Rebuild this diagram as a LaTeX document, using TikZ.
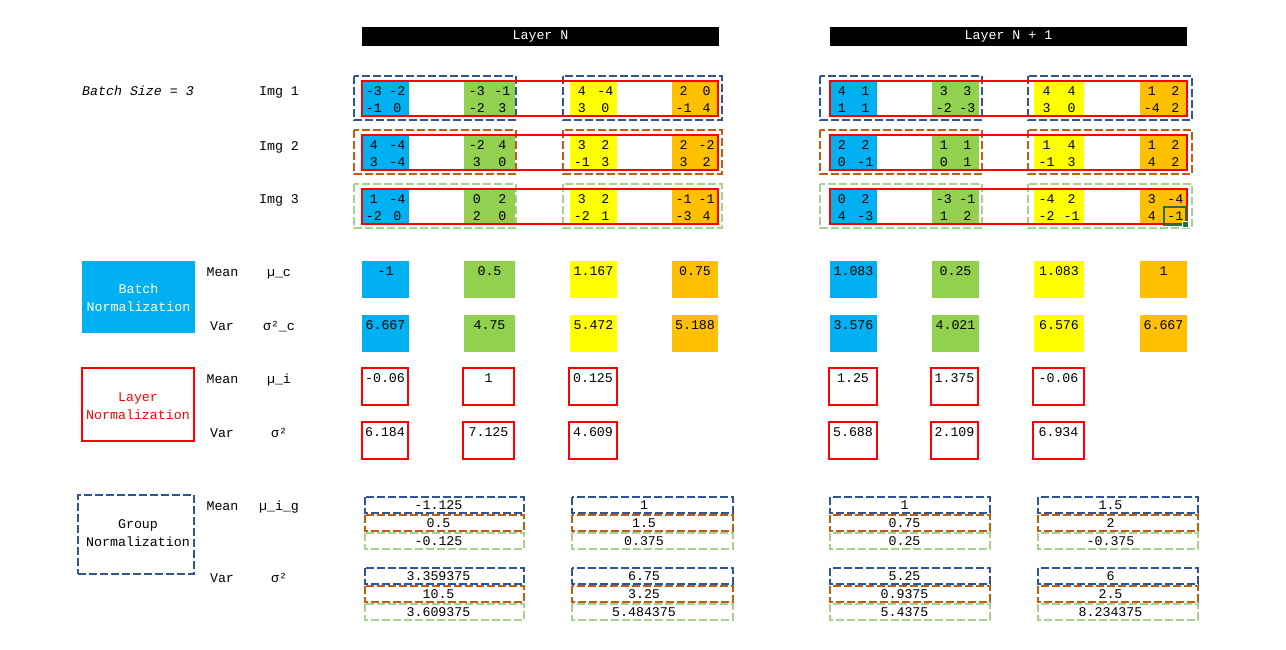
\documentclass[tikz,border=0pt]{standalone}
\usepackage{fontspec}
\setmainfont{Liberation Mono}
\definecolor{cblue}{HTML}{00B0F0}
\definecolor{cgreen}{HTML}{92D050}
\definecolor{cyellow}{HTML}{FFFF00}
\definecolor{corange}{HTML}{FFC000}
\definecolor{lnred}{HTML}{FF0000}
\definecolor{gblue}{HTML}{2F5597}
\definecolor{gorange}{HTML}{C55A11}
\definecolor{ggreen}{HTML}{A9D18E}
\definecolor{selgreen}{HTML}{217346}
\tikzset{
  txt/.style={font=\fontsize{13.3}{16}\selectfont, inner sep=0pt, anchor=base},
  twoline/.style={font=\fontsize{13.3}{18}\selectfont, align=center, inner sep=0pt},
  hdr/.style={fill=black, text=white, font=\fontsize{13.3}{16}\selectfont,
    minimum width=357pt, minimum height=19pt, inner sep=0pt},
  redbox/.style={draw=lnred, line width=2.2pt},
  lnbox/.style={draw=lnred, line width=2pt},
  gdash/.style={dash pattern=on 8pt off 3pt, line width=2pt},
}
% one channel of one image: 2x2 values on a coloured cell
% #1 name, #2 left, #3 width, #4 top, #5 fill, #6-#9 values
\newcommand\chan[9]{%
  \fill[#5] (#2,#4) rectangle (#2+#3,#4+35);
  \node[txt] (#1-a) at (#2+0.25*#3,#4+14) {#6};
  \node[txt] (#1-b) at (#2+0.75*#3,#4+14) {#7};
  \node[txt] (#1-c) at (#2+0.25*#3,#4+31.5) {#8};
  \node[txt] (#1-d) at (#2+0.75*#3,#4+31.5) {#9};
}
% statistic cell: #1 name, #2 left, #3 right, #4 top, #5 box style, #6 value
\newcommand\stat[6]{%
  \path[#5] (#2,#4) rectangle (#3,#4+37);
  \node[txt] (#1) at ({(#2+#3)/2},#4+14.5) {#6};
}
% group statistic row: #1 name, #2 left, #3 right, #4 text x, #5 top, #6 colour, #7 value
\newcommand\gstat[7]{%
  \draw[gdash, #6] (#2,#5) rectangle (#3,#5+16);
  \node[txt] (#1) at (#4,#5+12) {#7};
}
\begin{document}
\begin{tikzpicture}[x=1pt,y=-1pt]
\useasboundingbox (0,0) rectangle (1286,649);
\fill[white] (0,0) rectangle (1286,649);

% headers
\node[hdr] (hdrN) at (540.5,36.5) {Layer N};
\node[hdr] (hdrN1) at (1008.5,36.5) {Layer N + 1};

% left labels
\node[txt, font=\fontsize{13.3}{16}\selectfont\itshape] (bs) at (138,95) {Batch Size = 3};
\node[txt] (img1) at (279,95) {Img 1};
\node[txt] (img2) at (279,150) {Img 2};
\node[txt] (img3) at (279,203) {Img 3};

% ---------- Layer N inputs ----------
\chan{n1b}{362}{47}{81}{cblue}{-3}{-2}{-1}{0}
\chan{n1g}{464}{51}{81}{cgreen}{-3}{-1}{-2}{3}
\chan{n1y}{570}{47}{81}{cyellow}{4}{-4}{3}{0}
\chan{n1o}{672}{46}{81}{corange}{2}{0}{-1}{4}
\chan{n2b}{362}{47}{135}{cblue}{4}{-4}{3}{-4}
\chan{n2g}{464}{51}{135}{cgreen}{-2}{4}{3}{0}
\chan{n2y}{570}{47}{135}{cyellow}{3}{2}{-1}{3}
\chan{n2o}{672}{46}{135}{corange}{2}{-2}{3}{2}
\chan{n3b}{362}{47}{189}{cblue}{1}{-4}{-2}{0}
\chan{n3g}{464}{51}{189}{cgreen}{0}{2}{2}{0}
\chan{n3y}{570}{47}{189}{cyellow}{3}{2}{-2}{1}
\chan{n3o}{672}{46}{189}{corange}{-1}{-1}{-3}{4}

% ---------- Layer N+1 inputs ----------
\chan{m1b}{830}{47}{81}{cblue}{4}{1}{1}{1}
\chan{m1g}{932}{47}{81}{cgreen}{3}{3}{-2}{-3}
\chan{m1y}{1034}{50}{81}{cyellow}{4}{4}{3}{0}
\chan{m1o}{1140}{47}{81}{corange}{1}{2}{-4}{2}
\chan{m2b}{830}{47}{135}{cblue}{2}{2}{0}{-1}
\chan{m2g}{932}{47}{135}{cgreen}{1}{1}{0}{1}
\chan{m2y}{1034}{50}{135}{cyellow}{1}{4}{-1}{3}
\chan{m2o}{1140}{47}{135}{corange}{1}{2}{4}{2}
\chan{m3b}{830}{47}{189}{cblue}{0}{2}{4}{-3}
\chan{m3g}{932}{47}{189}{cgreen}{-3}{-1}{1}{2}
\chan{m3y}{1034}{50}{189}{cyellow}{-4}{2}{-2}{-1}
\chan{m3o}{1140}{47}{189}{corange}{3}{-4}{4}{-1}

% group outlines (two channels per group)
\foreach \t/\c in {76/gblue,130/gorange,184/ggreen}{
  \draw[gdash,\c] (354,\t) rectangle (516,\t+44);
  \draw[gdash,\c] (563,\t) rectangle (722,\t+44);
  \draw[gdash,\c] (820,\t) rectangle (982,\t+44);
  \draw[gdash,\c] (1028,\t) rectangle (1192,\t+44);
}
% layer outlines (one per image)
\foreach \t in {81,135,189}{
  \draw[redbox] (362,\t) rectangle (718,\t+35);
  \draw[redbox] (830,\t) rectangle (1187,\t+35);
}
% active cell marker
\draw[selgreen, line width=2pt] (1163.5,207) rectangle (1186,224.5);
\fill[selgreen, draw=white, line width=0.8pt] (1182.5,221.5) rectangle (1188.5,227.5);

% ---------- Batch Normalization ----------
\node[fill=cblue, minimum width=113pt, minimum height=72pt, inner sep=0pt] (bnbox) at (138.5,297) {};
\node[twoline, text=white] (bntxt) at (138.5,298) {Batch\\Normalization};
\node[txt] (bnm) at (222.5,276) {Mean};
\node[txt] (bnmu) at (279,276) {µ\_c};
\node[txt] (bnv) at (222,330) {Var};
\node[txt] (bnsig) at (279,330) {σ²\_c};

\stat{nbm1}{362}{409}{261}{fill=cblue}{-1}
\stat{nbm2}{464}{515}{261}{fill=cgreen}{0.5}
\stat{nbm3}{570}{617}{261}{fill=cyellow}{1.167}
\stat{nbm4}{672}{718}{261}{fill=corange}{0.75}
\stat{nbv1}{362}{409}{315}{fill=cblue}{6.667}
\stat{nbv2}{464}{515}{315}{fill=cgreen}{4.75}
\stat{nbv3}{570}{617}{315}{fill=cyellow}{5.472}
\stat{nbv4}{672}{718}{315}{fill=corange}{5.188}
\stat{mbm1}{830}{877}{261}{fill=cblue}{1.083}
\stat{mbm2}{932}{979}{261}{fill=cgreen}{0.25}
\stat{mbm3}{1034}{1084}{261}{fill=cyellow}{1.083}
\stat{mbm4}{1140}{1187}{261}{fill=corange}{1}
\stat{mbv1}{830}{877}{315}{fill=cblue}{3.576}
\stat{mbv2}{932}{979}{315}{fill=cgreen}{4.021}
\stat{mbv3}{1034}{1084}{315}{fill=cyellow}{6.576}
\stat{mbv4}{1140}{1187}{315}{fill=corange}{6.667}

% ---------- Layer Normalization ----------
\node[lnbox, minimum width=112pt, minimum height=73pt, inner sep=0pt] (lnbox) at (138,404.5) {};
\node[twoline, text=lnred] (lntxt) at (138,406) {Layer\\Normalization};
\node[txt] (lnm) at (222.5,383) {Mean};
\node[txt] (lnmu) at (279,383) {µ\_i};
\node[txt] (lnv) at (222,437) {Var};
\node[txt] (lnsig) at (279,437) {σ²};

\stat{nlm1}{362}{408}{368}{lnbox}{-0.06}
\stat{nlm2}{463}{514}{368}{lnbox}{1}
\stat{nlm3}{569}{617}{368}{lnbox}{0.125}
\stat{nlv1}{362}{408}{422}{lnbox}{6.184}
\stat{nlv2}{463}{514}{422}{lnbox}{7.125}
\stat{nlv3}{569}{617}{422}{lnbox}{4.609}
\stat{mlm1}{829}{877}{368}{lnbox}{1.25}
\stat{mlm2}{931}{978}{368}{lnbox}{1.375}
\stat{mlm3}{1033}{1084}{368}{lnbox}{-0.06}
\stat{mlv1}{829}{877}{422}{lnbox}{5.688}
\stat{mlv2}{931}{978}{422}{lnbox}{2.109}
\stat{mlv3}{1033}{1084}{422}{lnbox}{6.934}

% ---------- Group Normalization ----------
\node[draw=gblue, gdash, minimum width=116pt, minimum height=79pt, inner sep=0pt] (gnbox) at (136,534.5) {};
\node[twoline] (gntxt) at (138,533.5) {Group\\Normalization};
\node[txt] (gnm) at (222.5,510) {Mean};
\node[txt] (gnmu) at (279,510) {µ\_i\_g};
\node[txt] (gnv) at (222,582) {Var};
\node[txt] (gnsig) at (279,582) {σ²};

% Layer N, group 1 and group 2
\gstat{ngm11}{365}{524}{438.5}{497}{gblue}{-1.125}
\gstat{ngm12}{365}{524}{438.5}{515}{gorange}{0.5}
\gstat{ngm13}{365}{524}{438.5}{533}{ggreen}{-0.125}
\gstat{ngm21}{572}{733}{644}{497}{gblue}{1}
\gstat{ngm22}{572}{733}{644}{515}{gorange}{1.5}
\gstat{ngm23}{572}{733}{644}{533}{ggreen}{0.375}
\gstat{ngv11}{365}{524}{438.5}{568}{gblue}{3.359375}
\gstat{ngv12}{365}{524}{438.5}{586}{gorange}{10.5}
\gstat{ngv13}{365}{524}{438.5}{604}{ggreen}{3.609375}
\gstat{ngv21}{572}{733}{644}{568}{gblue}{6.75}
\gstat{ngv22}{572}{733}{644}{586}{gorange}{3.25}
\gstat{ngv23}{572}{733}{644}{604}{ggreen}{5.484375}
% Layer N+1, group 1 and group 2
\gstat{mgm11}{830}{990}{904.5}{497}{gblue}{1}
\gstat{mgm12}{830}{990}{904.5}{515}{gorange}{0.75}
\gstat{mgm13}{830}{990}{904.5}{533}{ggreen}{0.25}
\gstat{mgm21}{1038}{1198}{1110.5}{497}{gblue}{1.5}
\gstat{mgm22}{1038}{1198}{1110.5}{515}{gorange}{2}
\gstat{mgm23}{1038}{1198}{1110.5}{533}{ggreen}{-0.375}
\gstat{mgv11}{830}{990}{904.5}{568}{gblue}{5.25}
\gstat{mgv12}{830}{990}{904.5}{586}{gorange}{0.9375}
\gstat{mgv13}{830}{990}{904.5}{604}{ggreen}{5.4375}
\gstat{mgv21}{1038}{1198}{1110.5}{568}{gblue}{6}
\gstat{mgv22}{1038}{1198}{1110.5}{586}{gorange}{2.5}
\gstat{mgv23}{1038}{1198}{1110.5}{604}{ggreen}{8.234375}
\end{tikzpicture}
\end{document}
